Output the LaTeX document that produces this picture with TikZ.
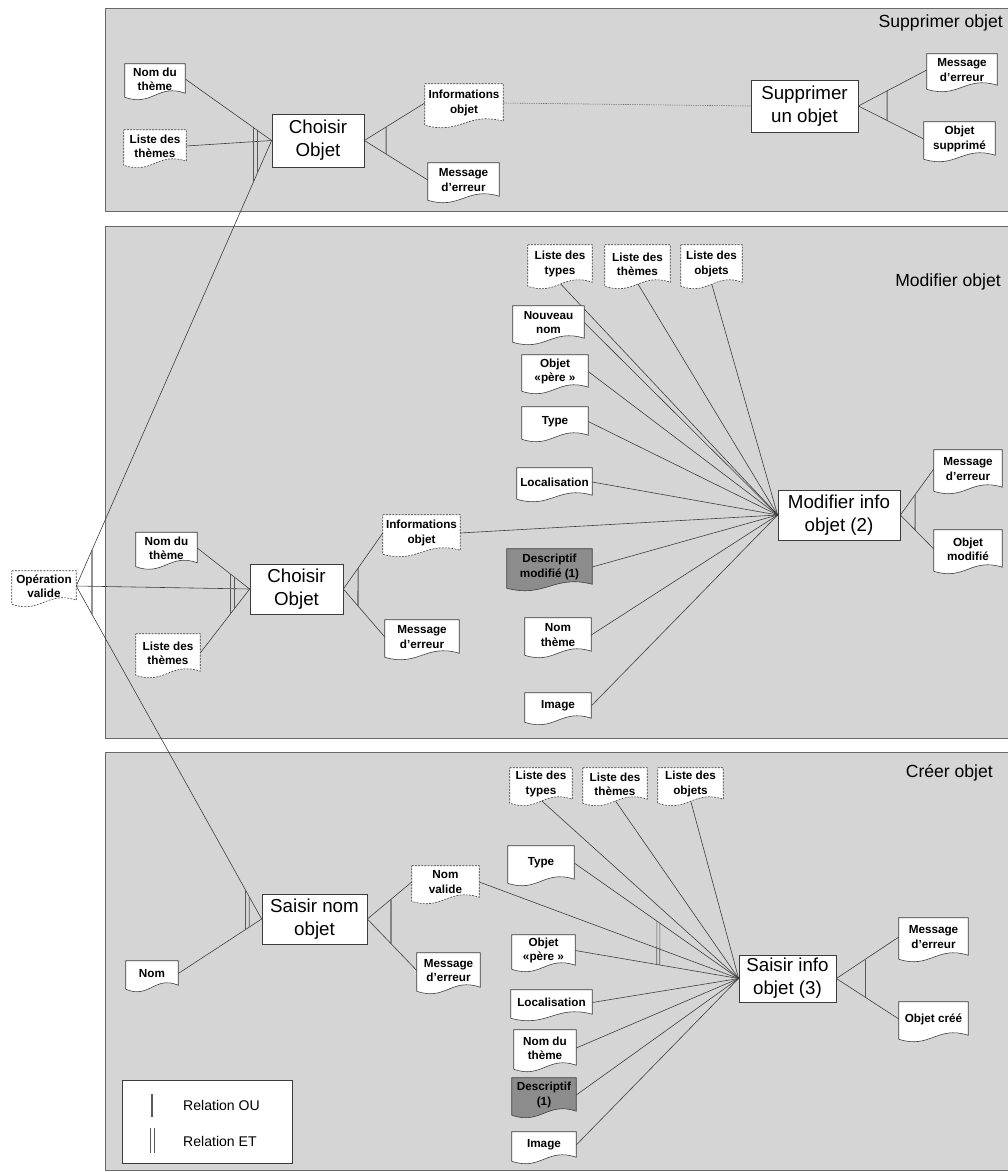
\documentclass[tikz,border=0pt]{standalone}
\usepackage{fontspec}
\setmainfont{Liberation Sans}
\usetikzlibrary{calc}

\pgfdeclarelayer{panels}
\pgfdeclarelayer{links}
\pgfdeclarelayer{docs}
\pgfsetlayers{panels,links,docs,main}

\definecolor{panelgray}{RGB}{213,213,213}
\definecolor{panelline}{RGB}{105,105,105}
\definecolor{inkgray}{RGB}{60,60,60}
\definecolor{descgray}{RGB}{140,140,140}

\newcommand\docfont{\fontsize{10}{12.2}\selectfont\bfseries}
\newcommand\procfont{\fontsize{16}{19.5}\selectfont}
\newcommand\titlefont{\fontsize{15}{18}\selectfont}
\newcommand\legfont{\fontsize{12}{14}\selectfont}

% relation stroke: vertical mark at abscissa #2 between the links #3--#4 and #3--#5
\newcommand\relmark[5]{\draw[#1] (intersection of #3--#4 and #2,0--#2,1) -- (intersection of #3--#5 and #2,0--#2,1);}

% document symbol with a wavy lower edge around the node #2
\newcommand\docshape[2]{\path[#1] (#2.north west) -- (#2.north east) -- ($(#2.south east)+(0,-1)$)
  .. controls ($(#2.south east)!0.45!(#2.south west)+(0,-11)$) and ($(#2.south east)!0.55!(#2.south west)+(0,13)$) .. ($(#2.south west)+(0,3)$) -- cycle;}

\tikzset{
  bw/.style={minimum width=#1*0.03cm},
  bh/.style={minimum height=#1*0.03cm},
  doctext/.style={inner sep=0pt, align=center, font=\docfont, text=black},
  procbox/.style={draw=inkgray, line width=0.6pt, fill=white, inner sep=0pt, align=center, font=\procfont},
  docsolid/.style={draw=inkgray, line width=0.5pt, fill=white},
  docdashed/.style={draw=inkgray, line width=0.5pt, fill=white, dash pattern=on 1.6pt off 1.1pt},
  docdark/.style={draw=inkgray, line width=0.5pt, fill=descgray},
  link/.style={draw=inkgray, line width=0.5pt},
  dotlink/.style={draw=black!55, line width=0.5pt, dash pattern=on 1.2pt off 0.8pt},
  orstroke/.style={draw=black!65, line width=0.9pt},
  andstroke/.style={draw=black!65, line width=0.6pt},
  panel/.style={fill=panelgray, draw=panelline, line width=0.6pt},
  paneltitle/.style={font=\titlefont, anchor=east, inner sep=0pt},
  legtext/.style={font=\legfont, anchor=west, inner sep=0pt},
}

\begin{document}
\begin{tikzpicture}[x=0.03cm, y=-0.03cm]
\useasboundingbox (0,0) rectangle (1008,1172);

% ---- panels
\begin{pgfonlayer}{panels}
  \path[panel] (105,8) rectangle (1014,211);
  \path[panel] (105,226) rectangle (1014,738);
  \path[panel] (105,752) rectangle (1014,1170);
\end{pgfonlayer}

\node[paneltitle] (t1) at (1003,23) {Supprimer objet};
\node[paneltitle] (t2) at (1001,282) {Modifier objet};
\node[paneltitle] (t3) at (993,773) {Créer objet};

% ---- shared input
\node[doctext,bw=64,bh=30] (ov) at (44,586) {Opération\\valide};

% ---- Supprimer objet
\node[doctext,bw=60,bh=30] (nt1) at (155,79) {Nom du\\thème};
\node[doctext,bw=62,bh=32] (lt1) at (155,146) {Liste des\\thèmes};
\node[procbox,bw=92,bh=53] (ch1) at (318,140.5) {Choisir\\Objet};
\node[doctext,bw=78,bh=38] (io1) at (464,103) {Informations\\objet};
\node[doctext,bw=71,bh=34] (me1) at (463.5,180) {Message\\d'erreur};
\node[procbox,bw=107,bh=52] (sp) at (804.5,106) {Supprimer\\un objet};
\node[doctext,bw=70,bh=32] (me2) at (962,70) {Message\\d'erreur};
\node[doctext,bw=71,bh=34] (os) at (959.5,139) {Objet\\supprimé};

% ---- Modifier objet
\node[doctext,bw=64,bh=38] (lty2) at (560,264) {Liste des\\types};
\node[doctext,bw=65,bh=38] (lth2) at (637.5,264) {Liste des\\thèmes};
\node[doctext,bw=61,bh=38] (lob2) at (711.5,264) {Liste des\\objets};
\node[doctext,bw=71,bh=33] (nn) at (548.5,322.5) {Nouveau\\nom};
\node[doctext,bw=66,bh=33] (op2) at (555,371.5) {Objet\\«père »};
\node[doctext,bw=66,bh=29] (ty2) at (555,421.5) {Type};
\node[doctext,bw=75,bh=28] (lo2) at (554.5,482) {Localisation};
\node[doctext,bw=77,bh=36] (io2) at (421.5,533) {Informations\\objet};
\node[doctext,bw=85,bh=36] (de2) at (549.5,567) {Descriptif\\modifié (1)};
\node[doctext,bw=74,bh=34] (me3) at (422,637) {Message\\d'erreur};
\node[doctext,bw=66,bh=34] (nt2b) at (558,635) {Nom\\thème};
\node[doctext,bw=66,bh=26] (im2) at (558,706) {Image};
\node[procbox,bw=122,bh=50] (mo) at (839,515) {Modifier info\\objet (2)};
\node[doctext,bw=68,bh=38] (me4) at (968,469) {Message\\d'erreur};
\node[doctext,bw=68,bh=38] (om) at (968,549) {Objet\\modifié};
\node[procbox,bw=93,bh=50] (ch2) at (296.5,589) {Choisir\\Objet};
\node[doctext,bw=61,bh=31] (nt2) at (166.5,548) {Nom du\\thème};
\node[doctext,bw=64,bh=38] (lt2) at (168,653) {Liste des\\thèmes};

% ---- Créer objet
\node[doctext,bw=62,bh=32] (lty3) at (541,784) {Liste des\\types};
\node[doctext,bw=64,bh=32] (lth3) at (615,784) {Liste des\\thèmes};
\node[doctext,bw=65,bh=32] (lob3) at (690.5,784) {Liste des\\objets};
\node[doctext,bw=66,bh=34] (ty3) at (541,863) {Type};
\node[doctext,bw=67,bh=32] (nv) at (445.5,882) {Nom\\valide};
\node[procbox,bw=105,bh=50] (sn) at (314.5,919) {Saisir nom\\objet};
\node[doctext,bw=63,bh=35] (me5) at (448.5,970.5) {Message\\d'erreur};
\node[doctext,bw=63,bh=31] (op3) at (543.5,950.5) {Objet\\«père »};
\node[doctext,bw=81,bh=25] (lo3) at (551.5,1002.5) {Localisation};
\node[doctext,bw=62,bh=36] (nd3) at (545,1048) {Nom du\\thème};
\node[doctext,bw=64,bh=34] (de3) at (544,1095) {Descriptif\\(1)};
\node[doctext,bw=64,bh=26] (im3) at (544,1145) {Image};
\node[procbox,bw=97,bh=47] (si) at (787.5,978.5) {Saisir info\\objet (3)};
\node[doctext,bw=69,bh=38] (me6) at (933.5,937) {Message\\d'erreur};
\node[doctext,bw=69,bh=34] (oc) at (933.5,1019) {Objet créé};
\node[doctext,bw=52,bh=25] (nom) at (152,973.5) {Nom};

% ---- legend
\node[draw=inkgray, line width=0.6pt, fill=white, bw=170, bh=83, inner sep=0pt] (legend) at (207,1121.5) {};
\node[legtext] (legou) at (183,1105) {Relation OU};
\node[legtext] (leget) at (183,1141) {Relation ET};
\draw[orstroke] (152,1094) -- (152,1117);
\draw[andstroke] (150,1128) -- (150,1153);
\draw[andstroke] (154,1128) -- (154,1153);

% ---- document outlines
\begin{pgfonlayer}{docs}
  \foreach \n in {nt1,me1,me2,os,nn,op2,ty2,lo2,me3,nt2b,im2,me4,om,nt2,ty3,me5,op3,lo3,nd3,im3,me6,oc,nom}
    {\docshape{docsolid}{\n}}
  \foreach \n in {ov,lt1,io1,lty2,lth2,lob2,io2,lt2,lty3,lth3,lob3,nv}
    {\docshape{docdashed}{\n}}
  \foreach \n in {de2,de3}
    {\docshape{docdark}{\n}}
\end{pgfonlayer}

% ---- links
\begin{pgfonlayer}{links}
  % operation valide towards the three entry processes
  \draw[link] (ov.east) -- (ch1.west);
  \draw[link] (ov.east) -- (ch2.west);
  \draw[link] (ov.east) -- (sn.west);
  \relmark{orstroke}{92}{ov.east}{ch1.west}{sn.west}

  % Supprimer objet
  \draw[link] (nt1.east) -- (ch1.west);
  \draw[link] (lt1.east) -- (ch1.west);
  \relmark{andstroke}{253.5}{ch1.west}{nt1.east}{ov.east}
  \relmark{andstroke}{257.5}{ch1.west}{nt1.east}{ov.east}
  \draw[link] (ch1.east) -- (io1.west);
  \draw[link] (ch1.east) -- (me1.west);
  \relmark{orstroke}{386}{ch1.east}{io1.west}{me1.west}
  \draw[dotlink] (io1.east) -- (sp.west);
  \draw[link] (sp.east) -- (me2.west);
  \draw[link] (sp.east) -- (os.west);
  \relmark{orstroke}{887}{sp.east}{me2.west}{os.west}

  % Modifier objet
  \draw[link] (nt2.east) -- (ch2.west);
  \draw[link] (lt2.east) -- (ch2.west);
  \relmark{andstroke}{230.5}{ch2.west}{nt2.east}{lt2.east}
  \relmark{andstroke}{234.5}{ch2.west}{nt2.east}{lt2.east}
  \draw[link] (ch2.east) -- (io2.west);
  \draw[link] (ch2.east) -- (me3.west);
  \relmark{orstroke}{358}{ch2.east}{io2.west}{me3.west}
  \foreach \n in {lty2,lth2,lob2}
    {\draw[link] (\n.south) -- (mo.west);}
  \foreach \n in {nn,op2,ty2,lo2,io2,de2,nt2b,im2}
    {\draw[link] (\n.east) -- (mo.west);}
  \draw[link] (mo.east) -- (me4.west);
  \draw[link] (mo.east) -- (om.west);
  \relmark{orstroke}{915}{mo.east}{me4.west}{om.west}

  % Créer objet
  \draw[link] (nom.east) -- (sn.west);
  \relmark{andstroke}{245.5}{sn.west}{ov.east}{nom.east}
  \relmark{andstroke}{249.3}{sn.west}{ov.east}{nom.east}
  \draw[link] (sn.east) -- (nv.west);
  \draw[link] (sn.east) -- (me5.west);
  \relmark{orstroke}{391}{sn.east}{nv.west}{me5.west}
  \foreach \n in {lty3,lth3,lob3}
    {\draw[link] (\n.south) -- (si.west);}
  \foreach \n in {ty3,nv,op3,lo3,nd3,de3,im3}
    {\draw[link] (\n.east) -- (si.west);}
  \relmark{andstroke}{656.8}{si.west}{ty3.east}{op3.east}
  \relmark{andstroke}{659.8}{si.west}{ty3.east}{op3.east}
  \draw[link] (si.east) -- (me6.west);
  \draw[link] (si.east) -- (oc.west);
  \relmark{orstroke}{865}{si.east}{me6.west}{oc.west}
\end{pgfonlayer}
\end{tikzpicture}
\end{document}
